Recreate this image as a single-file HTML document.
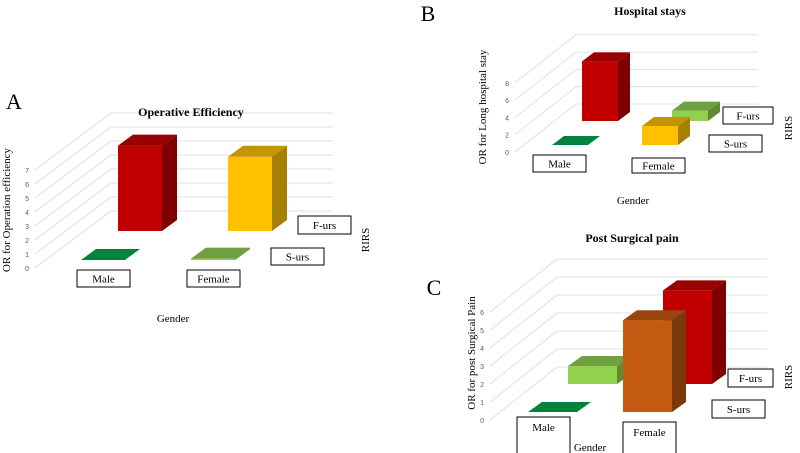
<!DOCTYPE html>
<html><head><meta charset="utf-8">
<style>
html,body{margin:0;padding:0;background:#fff;}
svg{display:block;font-family:"Liberation Serif",serif;}
</style></head>
<body>
<svg id="fig" width="800" height="453" viewBox="0 0 800 453" xmlns="http://www.w3.org/2000/svg">
<g id="panels"></g>
</svg>
<script>
// Panel A data (Operative Efficiency)
const categories = ["Male", "Female"];
const seriesNames = ["S-urs", "F-urs"];
const aSurs = [0, 0.1];
const aFurs = [6.1, 5.3];
const aTicks = [0, 1, 2, 3, 4, 5, 6, 7];
// Panel B data (Hospital stays)
const bSurs = [0, 2.2];
const bFurs = [6.9, 1.2];
const bTicks = [0, 2, 4, 6, 8];
// Panel C data (Post Surgical pain)
const cSurs = [0, 5.1];
const cFurs = [1.0, 5.2];
const cTicks = [0, 1, 2, 3, 4, 5, 6];

const NS = "http://www.w3.org/2000/svg";
const root = document.getElementById("panels");
function mk(tag, attrs, parent) {
  const e = document.createElementNS(NS, tag);
  for (const k in attrs) e.setAttribute(k, attrs[k]);
  (parent || root).appendChild(e);
  return e;
}
const PAL = {
  red: ["#C00000", "#7F0000", "#990000"],
  yellow: ["#FFC000", "#A68000", "#C49500"],
  dgreen: ["#00843D", "#005A29", "#00843D"],
  lgreen: ["#92D050", "#5E8A30", "#70A040"],
  orange: ["#C55A11", "#7A380B", "#9A4510"]
};

function panel(cfg) {
  const g = mk("g", {});
  
  
  const fy = v => cfg.fy0 - v * cfg.s;
  cfg.ticks.forEach(t => {
    const y = fy(t);
    const d = mk("line", {x1: cfg.fx, y1: y, x2: cfg.bx, y2: y + cfg.dy, stroke: "#d9d9d9", "stroke-width": 0.8}, g);
    
    
    const h = mk("line", {x1: cfg.bx, y1: y + cfg.dy, x2: cfg.br, y2: y + cfg.dy, stroke: "#d9d9d9", "stroke-width": 0.8}, g);
    
    
    const tl = mk("text", {x: cfg.fx - 6, y: y + 3, "font-size": 7, fill: "#595959", "text-anchor": "end", "font-family": "Liberation Sans, sans-serif"}, g);
    tl.textContent = t;
    
    
  });
  const rows = [{vals: cfg.furs, cols: cfg.fcols, r: 1, n: "f-urs"}, {vals: cfg.surs, cols: cfg.scols, r: 0, n: "s-urs"}];
  rows.forEach(row => {
    row.vals.forEach((v, i) => {
      const x0 = cfg.xs[i] + cfg.shx * row.r;
      const yb = cfg.base + cfg.shy * row.r;
      const yt = yb - v * cfg.s;
      const w = cfg.w, dx = cfg.dx, dy = cfg.ddy;
      const c = PAL[row.cols[i]];
      const bg = mk("g", {}, g);
      
      
      if (yb - yt > 0.5) {
        mk("polygon", {points: `${x0 + w},${yt} ${x0 + w + dx},${yt + dy} ${x0 + w + dx},${yb + dy} ${x0 + w},${yb}`, fill: c[1]}, bg);
        mk("rect", {x: x0, y: yt, width: w, height: yb - yt, fill: c[0]}, bg);
      }
      mk("polygon", {points: `${x0},${yt} ${x0 + w},${yt} ${x0 + w + dx},${yt + dy} ${x0 + dx},${yt + dy}`, fill: c[2]}, bg);
    });
  });
  cfg.boxes.forEach(b => {
    const r = mk("rect", {x: b[1], y: b[2], width: b[3], height: b[4], fill: "#fff", stroke: "#000", "stroke-width": 1}, g);
    
    
    const ty = b[5] !== undefined ? b[5] : b[2] + b[4] / 2 + 4;
    const t = mk("text", {x: b[1] + b[3] / 2, y: ty, "font-size": 11, "text-anchor": "middle"}, g);
    t.textContent = b[0];
    
    
  });
  const texts = [
    [cfg.title, cfg.title_xy[0], cfg.title_xy[1], 12, "bold", 0, "chart-title"],
    [cfg.letter, cfg.let_xy[0], cfg.let_xy[1], 22, "normal", 0, "panel-letter"],
    ["Gender", cfg.gen_xy[0], cfg.gen_xy[1], 11, "normal", 0, "x-axis-title"],
    ["RIRS", cfg.rirs_xy[0], cfg.rirs_xy[1], 11, "normal", -90, "depth-axis-title"],
    [cfg.ytitle, cfg.yt_xy[0], cfg.yt_xy[1], 11, "normal", -90, "y-axis-title"]
  ];
  texts.forEach(t => {
    const e = mk("text", {x: t[1], y: t[2], "font-size": t[3], "font-weight": t[4], "text-anchor": "middle",
      transform: t[5] ? `rotate(${t[5]} ${t[1]} ${t[2]})` : ""}, g);
    e.textContent = t[0];
    
    
  });
}

panel({name: "panel-a-operative-efficiency", fx: 35, fy0: 268, s: 14, bx: 111, dy: -57, br: 333, ticks: aTicks,
  xs: [81, 191], w: 44, base: 260, shx: 37, shy: -29, dx: 15, ddy: -11,
  surs: aSurs, furs: aFurs, scols: ["dgreen", "lgreen"], fcols: ["red", "yellow"],
  boxes: [["Male", 77, 270, 53, 17], ["Female", 187, 270, 53, 17], ["S-urs", 271, 248, 53, 17], ["F-urs", 298, 216, 53, 18]],
  title: "Operative Efficiency", title_xy: [191, 116], letter: "A", let_xy: [14, 109],
  gen_xy: [173, 322], rirs_xy: [369, 240], ytitle: "OR for Operation efficiency", yt_xy: [10, 210]});

panel({name: "panel-b-hospital-stays", fx: 515, fy0: 152, s: 8.65, bx: 576, dy: -48, br: 758, ticks: bTicks,
  xs: [552, 642], w: 36, base: 145, shx: 30, shy: -24, dx: 12, ddy: -9,
  surs: bSurs, furs: bFurs, scols: ["dgreen", "yellow"], fcols: ["red", "lgreen"],
  boxes: [["Male", 533, 155, 53, 17], ["Female", 632, 158, 53, 15], ["S-urs", 709, 135, 53, 17], ["F-urs", 723, 107, 50, 17]],
  title: "Hospital stays", title_xy: [650, 15], letter: "B", let_xy: [428, 21],
  gen_xy: [633, 204], rirs_xy: [792, 128], ytitle: "OR for Long hospital stay", yt_xy: [486, 107]});

panel({name: "panel-c-post-surgical-pain", fx: 490, fy0: 420, s: 18, bx: 557, dy: -53, br: 767, ticks: cTicks,
  xs: [528, 623], w: 49, base: 412, shx: 40, shy: -28, dx: 14, ddy: -10,
  surs: cSurs, furs: cFurs, scols: ["dgreen", "orange"], fcols: ["lgreen", "red"],
  boxes: [["Male", 517, 417, 53, 40, 431], ["Female", 623, 422, 53, 40, 436], ["S-urs", 712, 400, 53, 18], ["F-urs", 728, 369, 45, 18]],
  title: "Post Surgical pain", title_xy: [632, 242], letter: "C", let_xy: [434, 295],
  gen_xy: [590, 451], rirs_xy: [792, 377], ytitle: "OR for post Surgical Pain", yt_xy: [475, 353]});
</script>
</body></html>
